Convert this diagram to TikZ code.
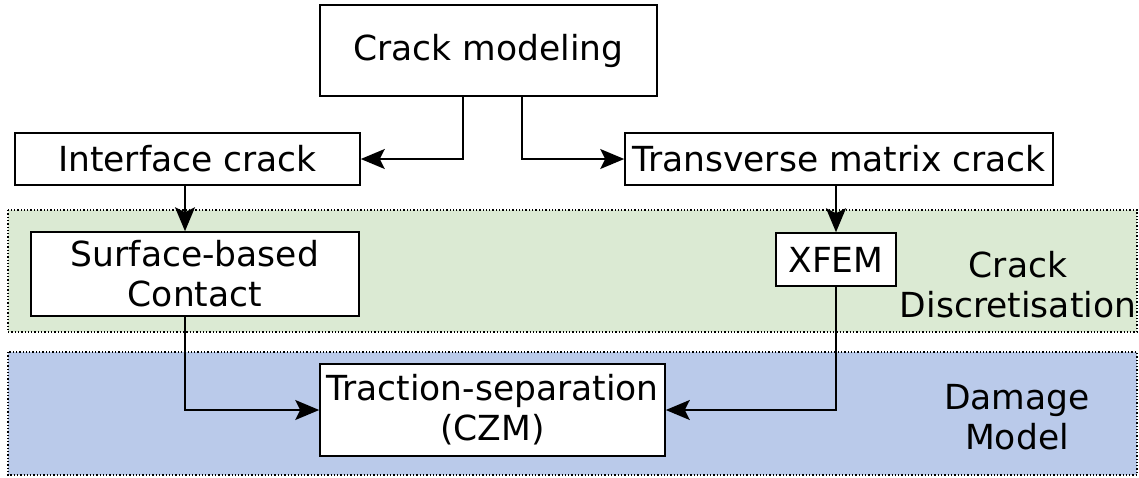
\documentclass[tikz,border=0pt]{standalone}
\usepackage{fontspec}
\setmainfont{DejaVu Sans}
\usetikzlibrary{arrows.meta}

\definecolor{discrgreen}{RGB}{219,234,211}
\definecolor{damageblue}{RGB}{186,202,234}

\tikzset{
  box/.style={draw, line width=1.6pt, fill=white, align=center, inner sep=0pt},
  zone/.style={line width=1.3pt, dotted},
  arr/.style={line width=1.7pt, -{Stealth[length=24pt,width=20pt,inset=5pt]}},
}

\begin{document}
\begin{tikzpicture}[x=1pt,y=-1pt,font=\fontsize{34.5}{40}\selectfont]
        \useasboundingbox (0,0) rectangle (1139,477);
        % shaded bands
        \draw[zone, fill=discrgreen] (8,210) rectangle (1137,332);
        \draw[zone, fill=damageblue] (8,352) rectangle (1137,475);
        \node[align=center] (discrlbl) at (1018,285) {Crack\\Discretisation};
        \node[align=center] (damagelbl) at (1017,417) {Damage\\Model};
        % boxes
        \node[box, minimum width=337, minimum height=91] (model) at (488.5,50.5) {Crack modeling};
        \node[box, minimum width=345, minimum height=52] (iface) at (187.5,159) {Interface crack};
        \node[box, minimum width=428, minimum height=52] (trans) at (839,159) {Transverse matrix crack};
        \node[box, minimum width=328, minimum height=84] (surf) at (195,274) {Surface-based\\Contact};
        \node[box, minimum width=120, minimum height=53] (xfem) at (836,259.5) {XFEM};
        \node[box, minimum width=345, minimum height=92] (czm) at (492.5,410) {Traction-separation\\(CZM)};
        % connectors
        \draw[arr] ([xshift=-25.5pt]model.south) |- (iface.east);
        \draw[arr] ([xshift=33.5pt]model.south) |- (trans.west);
        \draw[arr] ([xshift=-2.5pt]iface.south) -- ([xshift=-2.5pt]iface.south |- surf.north);
        \draw[arr] (xfem.north |- trans.south) -- (xfem.north);
        \draw[arr] ([xshift=-2.5pt]iface.south |- surf.south) |- (czm.west);
        \draw[arr] (xfem.south) |- (czm.east);
\end{tikzpicture}
\end{document}
